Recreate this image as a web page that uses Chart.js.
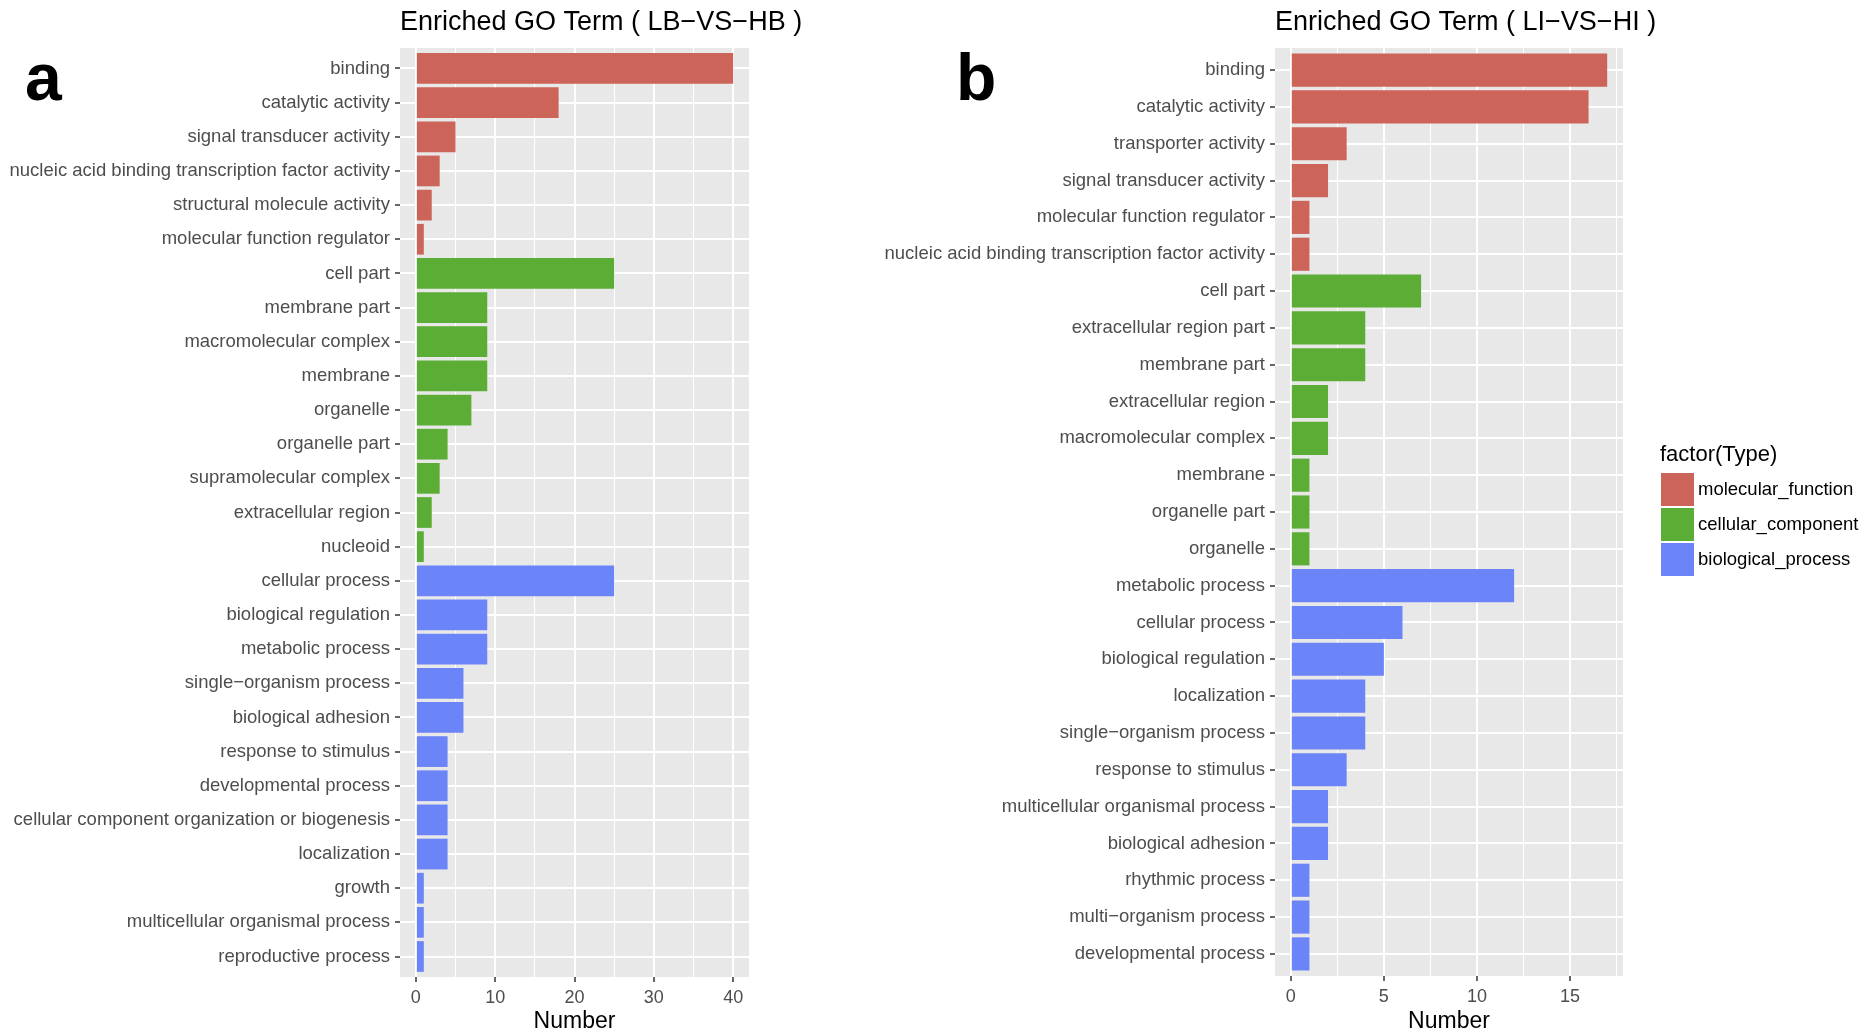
<!DOCTYPE html>
<html>
<head>
<meta charset="utf-8">
<title>Enriched GO Term</title>
<script src="https://cdn.jsdelivr.net/npm/chart.js@4/dist/chart.umd.min.js"></script>
<style>
  html, body { margin: 0; padding: 0; background: #fff; }
  #wrap { position: relative; width: 1864px; height: 1033px; overflow: hidden; background: #fff; }
  canvas { position: absolute; top: 0; }
  #chartA { left: 0; }
  #chartB { left: 860px; }
</style>
</head>
<body>
<div id="wrap">
  <canvas id="chartA" width="860" height="1033"></canvas>
  <canvas id="chartB" width="1004" height="1033"></canvas>
</div>
<script>
// ---- Panel a: LB-VS-HB ----
const termsA = [
  'binding', 'catalytic activity', 'signal transducer activity',
  'nucleic acid binding transcription factor activity', 'structural molecule activity',
  'molecular function regulator',
  'cell part', 'membrane part', 'macromolecular complex', 'membrane', 'organelle',
  'organelle part', 'supramolecular complex', 'extracellular region', 'nucleoid',
  'cellular process', 'biological regulation', 'metabolic process',
  'single\u2212organism process', 'biological adhesion', 'response to stimulus',
  'developmental process', 'cellular component organization or biogenesis',
  'localization', 'growth', 'multicellular organismal process', 'reproductive process'
];
const countsA = [40, 18, 5, 3, 2, 1, 25, 9, 9, 9, 7, 4, 3, 2, 1, 25, 9, 9, 6, 6, 4, 4, 4, 4, 1, 1, 1];
const typesA = [
  'molecular_function', 'molecular_function', 'molecular_function',
  'molecular_function', 'molecular_function', 'molecular_function',
  'cellular_component', 'cellular_component', 'cellular_component',
  'cellular_component', 'cellular_component', 'cellular_component',
  'cellular_component', 'cellular_component', 'cellular_component',
  'biological_process', 'biological_process', 'biological_process',
  'biological_process', 'biological_process', 'biological_process',
  'biological_process', 'biological_process', 'biological_process',
  'biological_process', 'biological_process', 'biological_process'
];
const majorTicksA = [0, 10, 20, 30, 40];
const minorTicksA = [5, 15, 25, 35];

// ---- Panel b: LI-VS-HI ----
const termsB = [
  'binding', 'catalytic activity', 'transporter activity', 'signal transducer activity',
  'molecular function regulator', 'nucleic acid binding transcription factor activity',
  'cell part', 'extracellular region part', 'membrane part', 'extracellular region',
  'macromolecular complex', 'membrane', 'organelle part', 'organelle',
  'metabolic process', 'cellular process', 'biological regulation', 'localization',
  'single\u2212organism process', 'response to stimulus', 'multicellular organismal process',
  'biological adhesion', 'rhythmic process', 'multi\u2212organism process', 'developmental process'
];
const countsB = [17, 16, 3, 2, 1, 1, 7, 4, 4, 2, 2, 1, 1, 1, 12, 6, 5, 4, 4, 3, 2, 2, 1, 1, 1];
const typesB = [
  'molecular_function', 'molecular_function', 'molecular_function',
  'molecular_function', 'molecular_function', 'molecular_function',
  'cellular_component', 'cellular_component', 'cellular_component', 'cellular_component',
  'cellular_component', 'cellular_component', 'cellular_component', 'cellular_component',
  'biological_process', 'biological_process', 'biological_process', 'biological_process',
  'biological_process', 'biological_process', 'biological_process', 'biological_process',
  'biological_process', 'biological_process', 'biological_process'
];
const majorTicksB = [0, 5, 10, 15];
const minorTicksB = [2.5, 7.5, 12.5, 17.5];

const typeOrder = ['molecular_function', 'cellular_component', 'biological_process'];
const typeColors = {
  molecular_function: '#CC6459',
  cellular_component: '#5BAD35',
  biological_process: '#6B84F7'
};

const FONT = "'Liberation Sans', Arial, Helvetica, sans-serif";

// grey panel behind the plot, plus panel heading and letter
const panelDeco = {
  id: 'panelDeco',
  beforeDraw(chart, args, opts) {
    const { ctx, chartArea: a } = chart;
    ctx.save();
    ctx.fillStyle = '#E8E8E8';
    ctx.fillRect(a.left, a.top, a.right - a.left, a.bottom - a.top);
    ctx.restore();
  },
  afterDraw(chart, args, opts) {
    const { ctx, chartArea: a } = chart;
    ctx.save();
    ctx.fillStyle = '#000';
    ctx.textAlign = 'left';
    ctx.textBaseline = 'middle';
    ctx.font = '27px ' + FONT;
    ctx.fillText(opts.title, a.left, 22.5);
    ctx.textBaseline = 'alphabetic';
    ctx.font = 'bold 66px ' + FONT;
    ctx.fillText(opts.letter, opts.letterX, 100);
    ctx.restore();
  }
};

// fill legend for factor(Type)
const typeLegend = {
  id: 'typeLegend',
  afterDraw(chart, args, opts) {
    if (!opts || !opts.show) return;
    const ctx = chart.ctx;
    const x = opts.x, y = opts.y;
    ctx.save();
    ctx.textAlign = 'left';
    ctx.textBaseline = 'middle';
    ctx.fillStyle = '#000';
    ctx.font = '22px ' + FONT;
    ctx.fillText('factor(Type)', x, y);
    typeOrder.forEach((t, i) => {
      const ky = y + 18 + i * 35;
      ctx.fillStyle = typeColors[t];
      ctx.fillRect(x + 1, ky, 33, 33);
      ctx.fillStyle = '#000';
      ctx.font = '18.5px ' + FONT;
      ctx.fillText(t, x + 38, ky + 17);
    });
    ctx.restore();
  }
};

function buildChart(id, terms, counts, types, xMin, xMax, major, minor, setup) {
  const gridValues = major.concat(minor).sort((p, q) => p - q);
  const isMajor = v => major.includes(v);
  return new Chart(document.getElementById(id), {
    type: 'bar',
    data: {
      datasets: [{
        data: counts.map((v, i) => ({ x: v, y: i })),
        backgroundColor: types.map(t => typeColors[t]),
        borderWidth: 0,
        barPercentage: 0.9,
        categoryPercentage: 1
      }]
    },
    options: {
      indexAxis: 'y',
      responsive: false,
      animation: false,
      devicePixelRatio: 1,
      layout: { padding: { top: 48, right: setup.padRight, left: 0, bottom: 0 } },
      plugins: {
        legend: { display: false },
        tooltip: { enabled: false },
        panelDeco: { title: setup.title, letter: setup.letter, letterX: setup.letterX },
        typeLegend: setup.legend || { show: false }
      },
      scales: {
        x: {
          type: 'linear',
          min: xMin,
          max: xMax,
          offset: false,
          afterBuildTicks: s => { s.ticks = gridValues.map(v => ({ value: v })); },
          afterFit: s => { s.height = 1033 - setup.bottom; },
          ticks: {
            autoSkip: false,
            maxRotation: 0,
            padding: 5.5,
            color: '#4D4D4D',
            font: { family: FONT, size: 18 },
            callback: v => (isMajor(v) ? String(v) : '')
          },
          grid: {
            offset: false,
            color: '#FFFFFF',
            lineWidth: c => (c.tick && isMajor(c.tick.value) ? 2 : 1),
            drawTicks: true,
            tickLength: 5,
            tickWidth: 1.5,
            tickColor: c => (c.tick && isMajor(c.tick.value) ? '#333333' : 'rgba(0,0,0,0)')
          },
          border: { display: false },
          title: {
            display: true,
            text: 'Number',
            color: '#000',
            font: { family: FONT, size: 23, lineHeight: 1 },
            padding: { top: 0, bottom: 0 }
          }
        },
        y: {
          type: 'linear',
          min: -0.6,
          max: terms.length - 0.4,
          reverse: true,
          offset: false,
          afterBuildTicks: s => { s.ticks = terms.map((t, i) => ({ value: i })); },
          afterFit: s => { s.width = setup.yWidth; },
          ticks: {
            autoSkip: false,
            padding: 5,
            color: '#4D4D4D',
            font: { family: FONT, size: 18.5 },
            callback: v => terms[v]
          },
          grid: {
            offset: false,
            color: '#FFFFFF',
            lineWidth: 2,
            drawTicks: true,
            tickLength: 5,
            tickWidth: 1.5,
            tickColor: '#333333'
          },
          border: { display: false }
        }
      }
    },
    plugins: [panelDeco, typeLegend]
  });
}

buildChart('chartA', termsA, countsA, typesA, -2, 42, majorTicksA, minorTicksA, {
  title: 'Enriched GO Term ( LB\u2212VS\u2212HB )',
  letter: 'a', letterX: 25,
  yWidth: 400, padRight: 111, bottom: 977
});

buildChart('chartB', termsB, countsB, typesB, -0.85, 17.85, majorTicksB, minorTicksB, {
  title: 'Enriched GO Term ( LI\u2212VS\u2212HI )',
  letter: 'b', letterX: 96,
  yWidth: 415, padRight: 241, bottom: 976,
  legend: { show: true, x: 800, y: 455 }
});
</script>
</body>
</html>
